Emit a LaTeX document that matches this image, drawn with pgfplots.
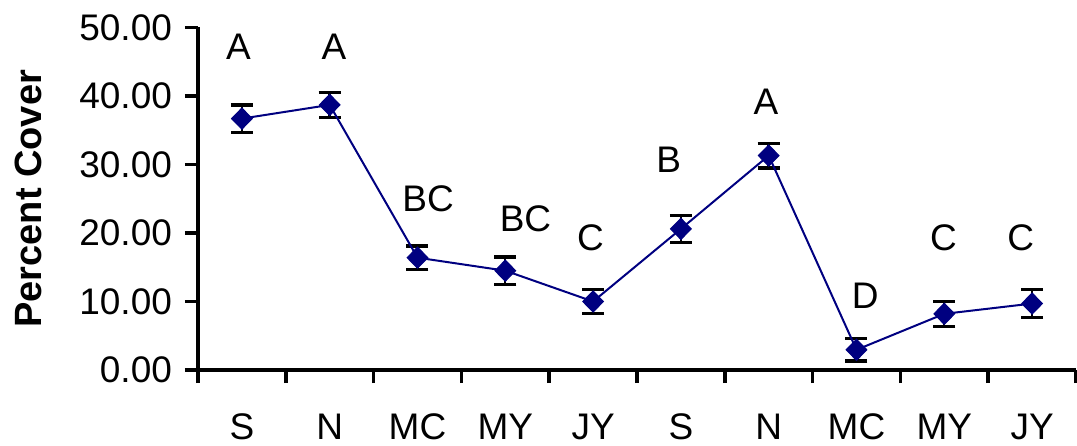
\documentclass[border=0pt]{standalone}
\usepackage{pgfplots}
\pgfplotsset{compat=1.18}
\usepackage{pgfplotstable}
\usepackage{fontspec}
\setmainfont{Liberation Sans}
\definecolor{navy}{RGB}{0,0,128}
\pgfplotstableread{
x y e lx ly lab
0 36.7 2.0 -0.04 47.2 A
1 38.7 1.8 1.05 47.2 A
2 16.4 1.7 2.12 25.0 BC
3 14.5 2.0 3.23 22.1 BC
4 10.0 1.8 3.97 19.3 C
5 20.6 2.0 4.86 30.7 B
6 31.3 1.8 5.97 39.2 A
7 2.95 1.65 7.10 10.9 D
8 8.2 1.8 7.99 19.3 C
9 9.7 2.0 8.87 19.3 C
}\data
\begin{document}
\begin{tikzpicture}
\begin{axis}[
  scale only axis, width=439pt, height=171.25pt,
  at={(0,0)}, anchor=south west,
  xmin=-0.5, xmax=9.5, ymin=0, ymax=50,
  clip=false,
  axis x line*=bottom, axis y line*=left,
  axis line style={line width=1.8pt, black},
  xtick={0,...,9}, xticklabels={S,N,MC,MY,JY,S,N,MC,MY,JY},
  minor xtick={-0.5,0.5,...,9.5},
  ytick={0,10,...,50},
  tick align=outside,
  major tick length=6.5pt, minor tick length=6.5pt,
  tick style={line width=1.8pt, black},
  major x tick style={draw=none},
  /pgf/number format/.cd, fixed, fixed zerofill, precision=2, assume math mode=true,
  /pgfplots/.cd,
  tick label style={font=\fontsize{18.5}{22}\selectfont, black},
  xticklabel style={yshift=-12pt},
  yticklabel style={xshift=-3pt},
  ylabel={Percent Cover},
  ylabel style={font=\bfseries\fontsize{19}{22}\selectfont, at={(axis description cs:-0.1777,0.5)}, anchor=base},
]
\addplot[draw=none, mark=none, forget plot,
  error bars/.cd, y dir=both, y explicit,
  error bar style={draw=black, line width=1.2pt},
  error mark=-,
  error mark options={rotate=90, draw=black, line width=1.6pt, mark size=5.5pt}]
  table[x=x, y=y, y error=e] {\data};
\addplot[navy, line width=1pt, mark=diamond*, mark size=5.3pt,
  mark options={xscale=1.3, fill=navy, draw=navy, line width=0.5pt, solid}]
  table[x=x, y=y] {\data};
\addplot[draw=none, mark=none,
  nodes near coords, point meta=explicit symbolic,
  nodes near coords style={anchor=center, inner sep=0pt, black, font=\fontsize{18.5}{22}\selectfont}]
  table[x=lx, y=ly, meta=lab] {\data};
\end{axis}
\pgfresetboundingbox
\path[use as bounding box] (-99pt,-37.5pt) rectangle (439.5pt,185pt);
\end{tikzpicture}
\end{document}
